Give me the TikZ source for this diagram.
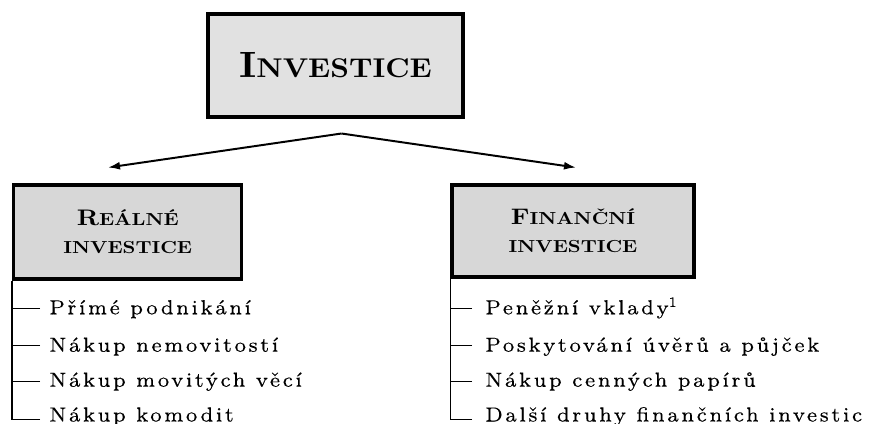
\documentclass[tikz,border=0pt]{standalone}
\usepackage{fontspec}
\usepackage{xcolor}
\usepackage{tikz}
\usetikzlibrary{calc}
\usetikzlibrary{arrows}
\usetikzlibrary{arrows.meta}
\usetikzlibrary{positioning}
\newfontfamily\itemfont[Extension=.otf, LetterSpace=12, FakeBold=0.3]{lmroman7-regular}
\newfontfamily\headfont[Extension=.otf]{lmroman10-bold}
\tikzset{>=latex}
\definecolor{topgray}{HTML}{E1E1E1}
\definecolor{subgray}{HTML}{D7D7D7}
\tikzstyle{mainbox} = [rectangle, draw=black, line width=2.4pt, fill=topgray, align=center, inner sep=0, font=\headfont]
\tikzstyle{subbox} = [rectangle, draw=black, line width=2.4pt, fill=subgray, align=center, inner sep=0, font=\headfont\fontsize{12.4}{19.9}\selectfont]
\tikzstyle{item} = [draw=none, anchor=base west, inner sep=0, font=\itemfont\fontsize{14.5}{18}\selectfont]
\tikzstyle{branch} = [-{Latex[length=0.3cm, width=0.2cm]}, line width=1.4pt]
\tikzstyle{tick} = [-, line width=1pt]
\newcommand{\widetext}[2][1.15]{\scalebox{#1}[1]{#2}}
\newcommand{\initcap}[2]{{\fontsize{#1}{#1}\selectfont #2}}

\begin{document}
\begin{tikzpicture}[x=0.025cm, y=-0.025cm]
\useasboundingbox (0,0) rectangle (873,423);
\node [mainbox, minimum width=6.375cm, minimum height=2.575cm] (inv) at (335.5, 65.5)
  {\widetext[1.08]{\initcap{26}{I}\initcap{19.3}{NVESTICE}}};
\node [subbox, minimum width=5.7cm, minimum height=2.35cm] (real) at (127.75, 232)
  {\widetext{\initcap{16}{R}EÁLNÉ}\\ \widetext{INVESTICE}};
\node [subbox, minimum width=6.05cm, minimum height=2.3cm] (fin) at (573, 231)
  {\widetext{\initcap{16}{F}INANČNÍ}\\ \widetext{INVESTICE}};
\coordinate (apex) at (341.5, 133.5);
\coordinate (lend) at (108, 167.5);
\coordinate (rend) at (576, 167.5);
\draw [branch] (apex) to (lend);
\draw [branch] (apex) to (rend);
\node [item] (r1) at (49, 314.3) {Přímé podnikání};
\node [item] (r2) at (49, 351.7) {Nákup nemovitostí};
\node [item] (r3) at (49, 386.7) {Nákup movitých věcí};
\node [item] (r4) at (49, 421.5) {Nákup komodit};
\node [item] (f1) at (485, 314.3) {Peněžní vklady\textsuperscript{1}};
\node [item] (f2) at (485, 351.7) {Poskytování úvěrů a půjček};
\node [item] (f3) at (485, 386.7) {Nákup cenných papírů};
\node [item] (f4) at (485, 421.5) {Další druhy finančních investic};
\draw [tick] ($(r1.base west)+(-9,-6)$) -| (real.south west);
\draw [tick] ($(r2.base west)+(-9,-6)$) -| (real.south west);
\draw [tick] ($(r3.base west)+(-9,-5)$) -| (real.south west);
\draw [tick] ($(r4.base west)+(-9,-2)$) -| (real.south west);
\draw [tick] ($(f1.base west)+(-13,-6)$) -| (fin.south west);
\draw [tick] ($(f2.base west)+(-13,-6)$) -| (fin.south west);
\draw [tick] ($(f3.base west)+(-13,-5)$) -| (fin.south west);
\draw [tick] ($(f4.base west)+(-13,-2)$) -| (fin.south west);
\end{tikzpicture}
\end{document}
